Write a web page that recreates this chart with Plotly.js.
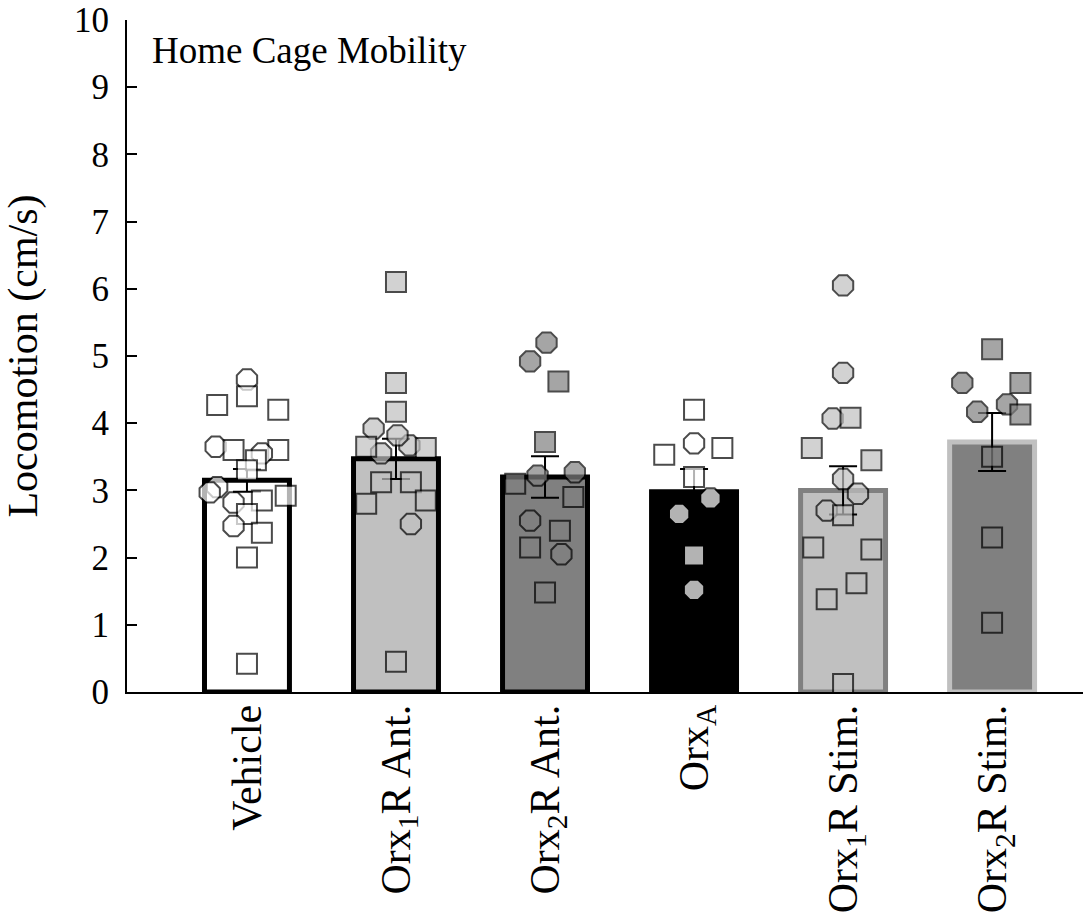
<!DOCTYPE html>
<html>
<head>
<meta charset="utf-8">
<script src="https://cdn.plot.ly/plotly-3.0.1.min.js"></script>
<style>html,body{margin:0;padding:0;background:#fff;}#chart{width:1085px;height:917px;}</style>
</head>
<body>
<div id="chart"></div>
<script>
// ---- data ----
const categories = ["Vehicle", "Orx<sub>1</sub>R Ant.", "Orx<sub>2</sub>R Ant.", "Orx<sub>A</sub>", "Orx<sub>1</sub>R Stim.", "Orx<sub>2</sub>R Stim."];
const means = [3.15, 3.47, 3.20, 2.98, 3.00, 3.72];
const sems  = [0.17, 0.30, 0.31, 0.34, 0.36, 0.43];
const yTicks = [0, 1, 2, 3, 4, 5, 6, 7, 8, 9, 10];

const vehicleVals   = [4.65, 4.40, 4.27, 4.20, 3.65, 3.60, 3.60, 3.55, 3.45, 3.30, 3.05, 2.97, 2.82, 2.85, 2.92, 2.65, 2.47, 2.37, 2.00, 0.42];
const vehicleJitter = [0.0, 0.0, -0.2, 0.21, -0.21, -0.09, 0.21, 0.1, 0.06, 0.0, -0.2, -0.25, -0.09, 0.1, 0.26, 0.0, -0.09, 0.1, 0.0, 0.0];
const vehicleShape  = ["o","s","s","s","o","s","s","o","s","s","o","o","o","s","s","s","o","s","s","s"];

const orx1AntVals   = [3.55, 3.67, 3.92, 3.82, 6.10, 4.60, 4.17, 3.65, 3.63, 3.12, 3.12, 2.80, 2.85, 2.50, 0.45];
const orx1AntJitter = [-0.1, 0.09, -0.15, 0.01, 0, 0, 0, -0.2, 0.2, -0.1, 0.1, -0.2, 0.2, 0.1, 0];
const orx1AntShape  = ["o","o","o","o","s","s","s","s","s","s","s","s","s","o","s"];

const orx2AntVals   = [5.20, 4.92, 4.62, 3.72, 3.22, 3.27, 3.10, 2.90, 2.55, 2.40, 2.15, 2.05, 1.48];
const orx2AntJitter = [0.01, -0.1, 0.09, 0, -0.05, 0.2, -0.2, 0.19, -0.1, 0.1, -0.1, 0.11, 0];
const orx2AntShape  = ["o","o","s","s","o","o","s","s","o","s","s","o","s"];

const orxAVals   = [4.20, 3.70, 3.53, 3.63, 3.20, 2.88, 2.65, 2.03, 1.52];
const orxAJitter = [0, 0, -0.2, 0.19, 0, 0.11, -0.1, 0, 0];
const orxAShape  = ["s","o","s","s","s","o","o","s","o"];

const orx1StimVals   = [6.05, 4.75, 4.07, 4.08, 3.63, 3.45, 3.17, 2.95, 2.70, 2.63, 2.15, 2.12, 1.62, 1.38, 0.12];
const orx1StimJitter = [0, 0, -0.07, 0.05, -0.21, 0.19, 0, 0.1, -0.11, 0, -0.2, 0.19, 0.09, -0.11, 0];
const orx1StimShape  = ["o","o","o","s","s","s","o","o","o","s","s","s","s","s","s"];

const orx2StimVals   = [5.10, 4.60, 4.60, 4.28, 4.17, 4.13, 3.50, 2.30, 1.03];
const orx2StimJitter = [0, -0.2, 0.19, 0.1, -0.1, 0.19, 0, 0, 0];
const orx2StimShape  = ["s","o","s","o","o","s","s","s","s"];

// ---- styles ----
const barFill = ["#ffffff", "#c0c0c0", "#808080", "#000000", "#c0c0c0", "#808080"];
const barEdge = ["#000000", "#000000", "#000000", "#000000", "#808080", "#c0c0c0"];
const ptFill  = ["#ffffff", "#c0c0c0", "#808080", "#ffffff", "#c0c0c0", "#808080"];

const groups = [
  [vehicleVals, vehicleJitter, vehicleShape],
  [orx1AntVals, orx1AntJitter, orx1AntShape],
  [orx2AntVals, orx2AntJitter, orx2AntShape],
  [orxAVals, orxAJitter, orxAShape],
  [orx1StimVals, orx1StimJitter, orx1StimShape],
  [orx2StimVals, orx2StimJitter, orx2StimShape]
];

const idx = categories.map((c, i) => i);
const traces = [{
  type: "bar",
  x: idx,
  y: means,
  width: 0.57,
  marker: {color: barFill, line: {color: barEdge, width: 5}},
  error_y: {type: "data", array: sems, visible: true, color: "#000000", thickness: 2, width: 14},
  hoverinfo: "skip",
  showlegend: false
}];

groups.forEach((g, gi) => {
  const [vals, jit, shp] = g;
  traces.push({
    type: "scatter",
    mode: "markers",
    x: vals.map((v, i) => gi + jit[i]),
    y: vals,
    marker: {
      symbol: shp.map(s => s === "o" ? "octagon" : "square"),
      size: shp.map(s => s === "o" ? 22 : 20),
      color: ptFill[gi],
      line: {color: "#000000", width: 2}
    },
    showlegend: false,
    hoverinfo: "skip"
  });
});

const font = "'Liberation Serif', 'Times New Roman', Times, serif";
const layout = {
  width: 1085, height: 917,
  margin: {l: 127, r: 2, t: 20, b: 225},
  paper_bgcolor: "#ffffff", plot_bgcolor: "#ffffff",
  font: {family: font, color: "#000000"},
  showlegend: false,
  bargap: 0,
  xaxis: {
    range: [-0.805, 5.61],
    tickvals: idx, ticktext: categories,
    tickangle: -90,
    ticks: "",
    ticklabelstandoff: -6,
    showline: true, linecolor: "#000000", linewidth: 2,
    showgrid: false, zeroline: false,
    tickfont: {family: font, size: 42, color: "#000000"}
  },
  yaxis: {
    range: [0, 10],
    tickvals: yTicks,
    ticks: "inside", ticklen: 10, tickwidth: 2, tickcolor: "#000000",
    showline: true, linecolor: "#000000", linewidth: 2,
    showgrid: false, zeroline: false,
    ticklabelstandoff: 9,
    ticklabeloverflow: "allow",
    tickfont: {family: font, size: 35, color: "#000000"},
    title: {text: "Locomotion (cm/s)", font: {family: font, size: 42, color: "#000000"}, standoff: 33}
  },
  annotations: [{
    text: "Home Cage Mobility",
    xref: "paper", yref: "paper",
    x: 0.024, y: 0.955, xanchor: "left", yanchor: "middle",
    showarrow: false,
    font: {family: font, size: 37, color: "#000000"}
  }]
};

Plotly.newPlot("chart", traces, layout, {displayModeBar: false, staticPlot: true});
</script>
</body>
</html>
